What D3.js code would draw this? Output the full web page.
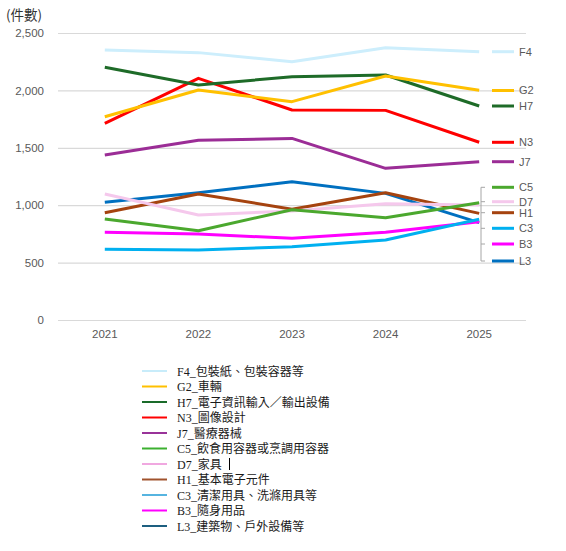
<!DOCTYPE html>
<html lang="zh-Hant">
<head>
<meta charset="UTF-8">
<title>件數推移</title>
<script src="https://d3js.org/d3.v7.min.js"></script>
<style>
    body { margin: 0; background: #fff; }
    svg { display: block; }
</style>
</head>
<body>
<svg id="chart"></svg>
<script>
const years = ["2021", "2022", "2023", "2024", "2025"];
const codes = ["F4", "G2", "H7", "N3", "J7", "C5", "D7", "H1", "C3", "B3", "L3"];
const names = ["包裝紙、包裝容器等", "車輛", "電子資訊輸入／輸出設備", "圖像設計", "醫療器械",
    "飲食用容器或烹調用容器", "家具", "基本電子元件", "清潔用具、洗滌用具等", "隨身用品", "建築物、戶外設備等"];
const valF4 = [2352, 2329, 2250, 2372, 2337];
const valG2 = [1771, 2003, 1902, 2125, 2001];
const valH7 = [2201, 2047, 2119, 2134, 1864];
const valN3 = [1713, 2105, 1829, 1826, 1548];
const valJ7 = [1437, 1565, 1582, 1321, 1379];
const valC5 = [880, 778, 960, 891, 1022];
const valD7 = [1098, 915, 950, 1013, 1002];
const valH1 = [935, 1098, 965, 1109, 929];
const valC3 = [616, 610, 639, 697, 877];
const valB3 = [764, 749, 712, 764, 856];
const valL3 = [1025, 1109, 1205, 1103, 848];
const yTicks = [0, 500, 1000, 1500, 2000, 2500];

const values = [valF4, valG2, valH7, valN3, valJ7, valC5, valD7, valH1, valC3, valB3, valL3];
const lineColors = ["#cdeefc", "#ffc000", "#1e6b28", "#ff0000", "#9b2d96", "#4ba82e",
    "#f5c8ec", "#a5430f", "#00b0f0", "#ff00ff", "#0070c0"];
const legendColors = ["#c8ecfa", "#ffc000", "#1a6b2a", "#ff0000", "#993399", "#3cb030",
    "#f0a8e0", "#a0522d", "#56b4e0", "#ff00ff", "#1d5f80"];
// label y positions at the right (pixels), spread so they do not overlap
const labelY = [51.7, 90.5, 106, 142.3, 161.7, 187.3, 201.7, 212.7, 228.3, 244, 261];

const width = 566, height = 551;
const svg = d3.select("#chart").attr("width", width).attr("height", height)
    .attr("viewBox", [0, 0, width, height]);

const x = d3.scaleBand().domain(years).range([58, 526]);
const y = d3.scaleLinear().domain([0, 2500]).range([320, 33]);
const cx = d => x(d) + x.bandwidth() / 2;

// gridlines + y labels
svg.append("g")
    .attr("transform", "translate(58,0)")
    .call(d3.axisLeft(y).tickValues(yTicks).tickSize(-468).tickFormat(d3.format(",")).tickPadding(14))
    .call(g => g.select(".domain").remove())
    .call(g => g.selectAll(".tick line").attr("stroke", "#d9d9d9").attr("stroke-width", 1.2))
    .call(g => g.selectAll(".tick text").attr("fill", "#595959")
        .attr("font-family", "Liberation Sans, Arial, sans-serif").attr("font-size", 11.5));

// x labels
svg.append("g")
    .attr("transform", "translate(0,320)")
    .call(d3.axisBottom(x).tickSize(0).tickPadding(10))
    .call(g => g.select(".domain").remove())
    .call(g => g.selectAll(".tick text").attr("fill", "#595959")
        .attr("font-family", "Liberation Sans, Arial, sans-serif").attr("font-size", 11.5));

svg.append("text")
    .attr("x", 6).attr("y", 20)
    .attr("font-family", "Noto Sans CJK TC, sans-serif").attr("font-size", 13.5)
    .attr("fill", "#333")
    .text("(件數)");

const line = d3.line().x((d, i) => cx(years[i])).y(d => y(d));

// draw in reverse so the top of the legend ends on top
const order = d3.range(codes.length).reverse();
svg.append("g").selectAll("path")
    .data(order)
    .join("path")
    .attr("fill", "none")
    .attr("stroke", i => lineColors[i])
    .attr("stroke-width", 3)
    .attr("stroke-linejoin", "round")
    .attr("d", i => line(values[i]));

// right-hand labels
const right = svg.append("g");
right.selectAll("line")
    .data(codes)
    .join("line")
    .attr("x1", 492).attr("x2", 514)
    .attr("y1", (d, i) => labelY[i]).attr("y2", (d, i) => labelY[i])
    .attr("stroke", (d, i) => lineColors[i])
    .attr("stroke-width", 3);
right.selectAll("text")
    .data(codes)
    .join("text")
    .attr("x", 519)
    .attr("y", (d, i) => labelY[i])
    .attr("dy", "0.35em")
    .attr("font-family", "Liberation Sans, Arial, sans-serif")
    .attr("font-size", 11)
    .attr("fill", "#595959")
    .text(d => d);

// bracket for the crowded group
const grp = labelY.slice(5);
right.append("line")
    .attr("x1", 481).attr("x2", 481)
    .attr("y1", grp[0]).attr("y2", grp[grp.length - 1])
    .attr("stroke", "#a6a6a6").attr("stroke-width", 1);
right.selectAll(".brk")
    .data(grp)
    .join("line")
    .attr("class", "brk")
    .attr("x1", 481).attr("x2", 485)
    .attr("y1", d => d).attr("y2", d => d)
    .attr("stroke", "#a6a6a6").attr("stroke-width", 1);

// bottom legend
const legend = svg.append("g");
const rowY = i => 371 + i * 15.5;
legend.selectAll("line")
    .data(codes)
    .join("line")
    .attr("x1", 142).attr("x2", 167)
    .attr("y1", (d, i) => rowY(i)).attr("y2", (d, i) => rowY(i))
    .attr("stroke", (d, i) => legendColors[i])
    .attr("stroke-width", 2);
legend.selectAll("text")
    .data(codes)
    .join("text")
    .attr("x", 177)
    .attr("y", (d, i) => rowY(i))
    .attr("dy", "0.38em")
    .attr("font-family", "Liberation Serif, 'Noto Sans CJK TC', serif")
    .attr("font-size", 12)
    .attr("fill", "#1a1a1a")
    .text((d, i) => d + "_" + names[i]);

// stray caret after D7
legend.append("line")
    .attr("x1", 229.5).attr("x2", 229.5)
    .attr("y1", rowY(6) - 6).attr("y2", rowY(6) + 6)
    .attr("stroke", "#000").attr("stroke-width", 1);
</script>
</body>
</html>
